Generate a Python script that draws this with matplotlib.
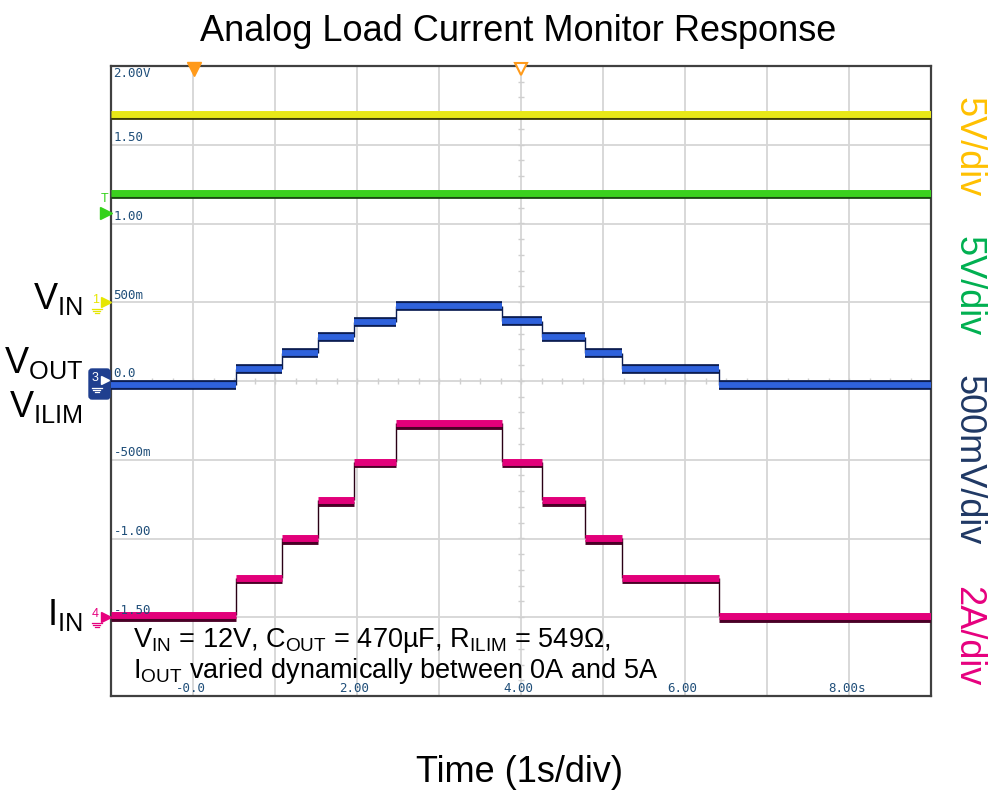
import matplotlib
matplotlib.use('Agg')
import matplotlib.pyplot as plt
import numpy as np
from matplotlib.patches import FancyBboxPatch

plt.rcParams['font.family'] = ['Liberation Sans', 'DejaVu Sans']
plt.rcParams['mathtext.fontset'] = 'custom'
plt.rcParams['mathtext.rm'] = 'Liberation Sans'
plt.rcParams['mathtext.it'] = 'Liberation Sans:italic'

#%% Data (scope screen units: time in s, vertical in the 0.5/div screen scale)

step_edges = [-1.0, 0.53, 1.08, 1.53, 1.96, 2.48, 3.77, 4.26, 4.78, 5.23, 6.41, 9.0]
vout_levels = [-0.025, 0.074, 0.176, 0.277, 0.377, 0.478, 0.379, 0.277, 0.176, 0.076, -0.025]
iin_levels = [-1.486, -1.249, -0.999, -0.756, -0.512, -0.265, -0.512, -0.756, -0.999, -1.249, -1.492]
vin_level = 1.695
ilim_level = 1.194

time_ticks = [0, 2, 4, 6, 8]
time_labels = ['-0.0', '2.00', '4.00', '6.00', '8.00s']
volt_ticks = [2.0, 1.5, 1.0, 0.5, 0.0, -0.5, -1.0, -1.5]
volt_labels = ['2.00V', '1.50', '1.00', '500m', '0.0', '-500m', '-1.00', '-1.50']

scale_labels = ['5V/div', '5V/div', '500mV/div', '2A/div']
scale_colors = ['#ffc000', '#00b050', '#1f3864', '#e6007e']

#%% Figure

W, H = 1003, 799
fig = plt.figure(figsize=(W / 100, H / 100), dpi=100)
ax = fig.add_axes([111 / W, 103 / H, 820 / W, 630 / H])
ax.set_xlim(-1, 9)
ax.set_ylim(-2, 2)
ax.set_xticks(np.arange(0, 9, 1))
ax.set_yticks(np.arange(-1.5, 2.0, 0.5))
ax.grid(True, color='#d6d6d6', lw=1.3)
ax.tick_params(length=0, labelbottom=False, labelleft=False)
for s in ax.spines.values():
    s.set_color('#404040')
    s.set_linewidth(1.6)
ax.set_axisbelow(True)

# minor ticks on the centre lines
xm = np.arange(-1, 9.01, 0.25)
ax.vlines(xm, -0.02, 0.02, color='#cfcfcf', lw=1, zorder=1)
ym = np.arange(-2, 2.01, 0.1)
ax.hlines(ym, 4 - 0.04, 4 + 0.04, color='#cfcfcf', lw=1, zorder=1)

# scope labels
for v, lab in zip(volt_ticks, volt_labels):
    yy = v - 0.05 if v == 2.0 else v + 0.045
    ax.text(-0.97, yy, lab, family='DejaVu Sans Mono', fontsize=9, color='#1f4e79',
            ha='left', va='center', zorder=5)
for t, lab in zip(time_ticks, time_labels):
    ax.text(t - 0.03, -1.955, lab, family='DejaVu Sans Mono', fontsize=9, color='#1f4e79',
            ha='center', va='center', zorder=5)

# CH1 / CH2 flat traces
ax.hlines(vin_level - 0.024, -1, 9, color='#3d3d05', lw=2, zorder=3)
ax.hlines(vin_level, -1, 9, color='#e8e817', lw=5, zorder=4)
ax.hlines(ilim_level - 0.026, -1, 9, color='#1a4a10', lw=2, zorder=3)
ax.hlines(ilim_level, -1, 9, color='#3ad11e', lw=5, zorder=4)

# stepped traces
starts = step_edges[:-1]
ends = step_edges[1:]
ax.vlines(step_edges[1:-1], vout_levels[:-1], vout_levels[1:], color='#0b1d52', lw=1, zorder=3)
ax.hlines(vout_levels, starts, ends, color='#0b1d52', lw=7, zorder=3)
ax.hlines(vout_levels, starts, ends, color='#2f62dc', lw=4.2, zorder=4)

ax.vlines(step_edges[1:-1], iin_levels[:-1], iin_levels[1:], color='#2a0015', lw=1, zorder=3)
ax.hlines(np.array(iin_levels) - 0.024, starts, ends, color='#4a0026', lw=3.5, zorder=3)
ax.hlines(iin_levels, starts, ends, color='#e2007a', lw=5, zorder=4)

#%% Overlay in pixel coords for markers and labels

ov = fig.add_axes([0, 0, 1, 1], facecolor='none')
ov.set_xlim(0, W)
ov.set_ylim(H, 0)
ov.axis('off')

# trigger markers on top
ov.plot(194, 69, marker='v', ms=10, color='#ff9a1a', mec='#ff9a1a')
ov.plot(521, 69, marker='v', ms=9, mfc='white', mec='#ff9a1a', mew=1.5)

# trigger level marker
ov.text(105, 199, 'T', fontsize=9, color='#33d11a', ha='center', va='center')
ov.plot(106, 213, marker='>', ms=8, color='#33d11a')


def ground(x, y, c):
    for i, w in enumerate([5, 3.5, 2]):
        ov.plot([x - w, x + w], [y + i * 2.2, y + i * 2.2], color=c, lw=0.9)


# channel markers
ov.text(96, 300, '1', fontsize=9, color='#e6e600', ha='center', va='center')
ov.plot(106, 302, marker='>', ms=7, color='#e6e600')
ground(97, 309, '#e6e600')

ov.add_patch(FancyBboxPatch((89, 369), 21, 30, boxstyle='round,pad=0,rounding_size=3',
                            fc='#1f3f8f', ec='#1f3f8f'))
ov.text(95, 378, '3', fontsize=9, color='white', ha='center', va='center')
ov.plot(105, 380, marker='>', ms=6, color='white')
ground(97, 388, 'white')

ov.text(95, 614, '4', fontsize=9, color='#e6007e', ha='center', va='center')
ov.plot(106, 617, marker='>', ms=7, color='#e6007e')
ground(97, 623, '#e6007e')

# channel names
ov.text(83, 309, r'V$_{\mathrm{IN}}$', fontsize=26, ha='right', va='baseline')
ov.text(83, 373, r'V$_{\mathrm{OUT}}$', fontsize=26, ha='right', va='baseline')
ov.text(83, 417, r'V$_{\mathrm{ILIM}}$', fontsize=26, ha='right', va='baseline')
ov.text(83, 625, r'I$_{\mathrm{IN}}$', fontsize=26, ha='right', va='baseline')

# scale labels on the right
for yc, lab, c in zip([147, 286, 460, 636], scale_labels, scale_colors):
    ov.text(968, yc, lab, fontsize=26, color=c, rotation=270, ha='center', va='center')

# conditions
ov.text(133, 647, r'V$_{\mathrm{IN}}$ = 12V, C$_{\mathrm{OUT}}$ = 470µF, R$_{\mathrm{ILIM}}$ = 549Ω,',
        fontsize=19.5, ha='left', va='baseline')
ov.text(133, 678, r'I$_{\mathrm{OUT}}$ varied dynamically between 0A and 5A',
        fontsize=19.5, ha='left', va='baseline')

ov.text(518, 41, 'Analog Load Current Monitor Response', fontsize=26, ha='center', va='baseline')
ov.text(520, 782, 'Time (1s/div)', fontsize=26, ha='center', va='baseline')

fig.savefig('out.png', dpi=100)
